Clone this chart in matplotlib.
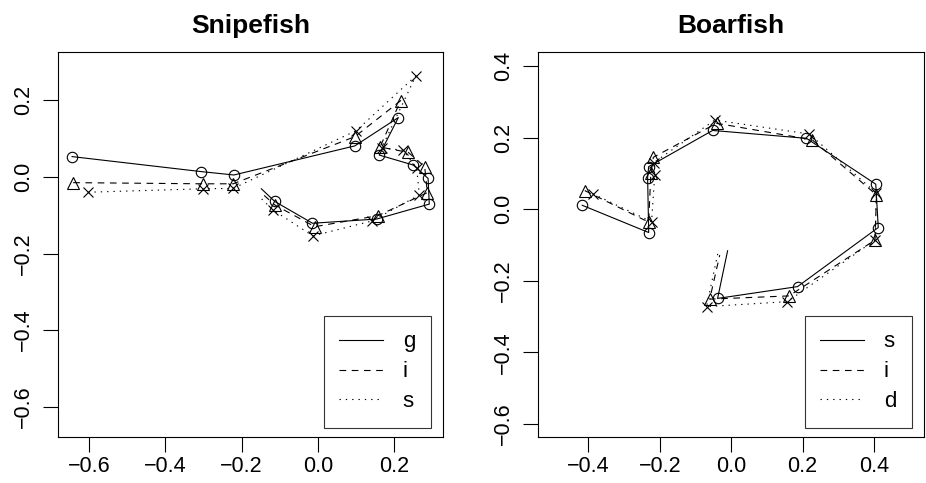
import matplotlib
matplotlib.use("Agg")
import matplotlib.pyplot as plt

plt.rcParams['font.family'] = ['Liberation Sans', 'DejaVu Sans']

# Snipefish curves (last point of every curve carries no marker)
snipe_g_x = [-0.644, -0.307, -0.220, 0.097, 0.211, 0.161, 0.250, 0.289, 0.292, 0.154, -0.014, -0.113, -0.148]
snipe_g_y = [0.053, 0.014, 0.005, 0.081, 0.155, 0.057, 0.031, -0.004, -0.071, -0.110, -0.121, -0.064, -0.031]
snipe_i_x = [-0.641, -0.301, -0.222, 0.097, 0.217, 0.163, 0.237, 0.280, 0.287, 0.158, -0.008, -0.113, -0.150]
snipe_i_y = [-0.015, -0.018, -0.018, 0.105, 0.199, 0.078, 0.064, 0.027, -0.041, -0.101, -0.130, -0.073, -0.040]
snipe_s_x = [-0.602, -0.301, -0.222, 0.101, 0.257, 0.167, 0.223, 0.259, 0.266, 0.142, -0.013, -0.118, -0.155]
snipe_s_y = [-0.040, -0.031, -0.030, 0.121, 0.264, 0.075, 0.070, 0.023, -0.047, -0.115, -0.154, -0.086, -0.050]

# Boarfish curves
boar_s_x = [-0.417, -0.231, -0.234, -0.231, -0.052, 0.211, 0.405, 0.412, 0.186, -0.038, -0.010]
boar_s_y = [0.011, -0.065, 0.088, 0.119, 0.220, 0.198, 0.070, -0.051, -0.216, -0.249, -0.116]
boar_i_x = [-0.410, -0.231, -0.225, -0.218, -0.041, 0.227, 0.407, 0.403, 0.162, -0.060, -0.032]
boar_i_y = [0.052, -0.036, 0.100, 0.145, 0.240, 0.194, 0.040, -0.086, -0.242, -0.251, -0.128]
boar_d_x = [-0.387, -0.223, -0.214, -0.217, -0.046, 0.219, 0.407, 0.403, 0.157, -0.069, -0.037]
boar_d_y = [0.043, -0.035, 0.096, 0.130, 0.249, 0.210, 0.045, -0.086, -0.258, -0.272, -0.122]

snipe_labels = ["g", "i", "s"]
boar_labels = ["s", "i", "d"]

snipe_xticks = [-0.6, -0.4, -0.2, 0.0, 0.2]
snipe_yticks = [-0.6, -0.4, -0.2, 0.0, 0.2]
boar_xticks = [-0.4, -0.2, 0.0, 0.2, 0.4]
boar_yticks = [-0.6, -0.4, -0.2, 0.0, 0.2, 0.4]

styles = [
    dict(ls="-", marker="o", ms=7.5),
    dict(ls=(0, (6, 5)), marker="^", ms=8.5),
    dict(ls=(0, (1.2, 4.5)), marker="x", ms=7.5),
]

fig = plt.figure(figsize=(9.26, 4.83), dpi=100)


def panel(rect, title, curves, labels, xlim, ylim, xticks, yticks):
    ax = fig.add_axes(rect)
    handles = []
    for (x, y), st, lab in zip(curves, styles, labels):
        ax.plot(x, y, color="black", lw=0.8, ls=st["ls"], marker=st["marker"],
                ms=st["ms"], mfc="none", mec="black", mew=0.8,
                markevery=list(range(len(x) - 1)))
        h, = ax.plot([], [], color="black", lw=0.8, ls=st["ls"])
        handles.append(h)
    ax.set_xlim(xlim)
    ax.set_ylim(ylim)
    ax.set_xticks(xticks)
    ax.set_yticks(yticks)
    ax.set_xticklabels([f"{v:.1f}".replace("-", "\u2212") for v in xticks])
    ax.set_yticklabels([f"{v:.1f}".replace("-", "\u2212") for v in yticks],
                       rotation=90, va="center")
    ax.tick_params(length=10.5, width=0.8, labelsize=15.5, direction="out")
    ax.tick_params(axis="x", pad=3)
    ax.tick_params(axis="y", pad=7)
    for sp in ax.spines.values():
        sp.set_linewidth(0.8)
    ax.set_title(title, fontsize=19, fontweight="bold", pad=14)
    leg = ax.legend(handles, labels, loc="lower right", fontsize=16,
                    bbox_to_anchor=(0.968, 0.024), borderaxespad=0,
                    fancybox=False, frameon=True, edgecolor="black",
                    handlelength=1.95, handletextpad=0.9, borderpad=0.7,
                    labelspacing=0.4)
    leg.get_frame().set_linewidth(0.8)
    return ax


panel([0.0626, 0.0952, 0.4158, 0.7971], "Snipefish",
      [(snipe_g_x, snipe_g_y), (snipe_i_x, snipe_i_y), (snipe_s_x, snipe_s_y)],
      snipe_labels, (-0.681, 0.328), (-0.679, 0.326), snipe_xticks, snipe_yticks)

panel([0.581, 0.0952, 0.4168, 0.7971], "Boarfish",
      [(boar_s_x, boar_s_y), (boar_i_x, boar_i_y), (boar_d_x, boar_d_y)],
      boar_labels, (-0.541, 0.540), (-0.636, 0.439), boar_xticks, boar_yticks)

fig.savefig("out.png", dpi=100)
